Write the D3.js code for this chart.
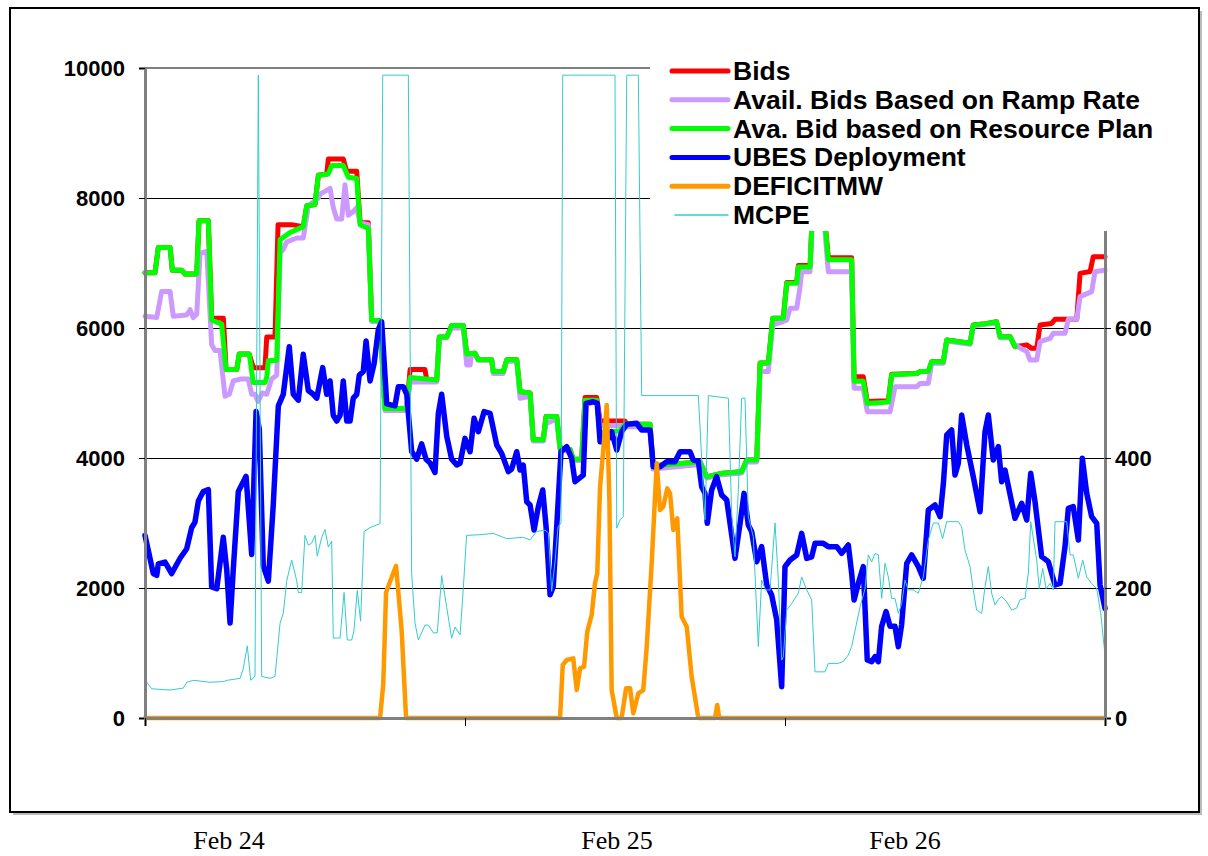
<!DOCTYPE html>
<html>
<head>
<meta charset="utf-8">
<script src="https://cdn.jsdelivr.net/npm/d3@7"></script>
<style>
  body { margin: 0; background: #fff; }
  svg { display: block; }
  .tick text { font-family: "Liberation Sans", Arial, sans-serif; font-weight: bold; font-size: 22px; fill: #000; }
</style>
</head>
<body>
<div id="chart"></div>
<script>
// hours from start of Feb 24, value pairs
const bids = [[0,6850],[0.75,6850],[1,7240],[1.88,7240],[2.05,6890],[2.75,6890],[3,6830],[3.88,6830],[4.05,7650],[4.75,7650],
  [5,6150],[5.88,6150],[6.08,5360],[6.88,5360],[7.07,5600],[7.82,5600],[8.12,5390],[9,5390],[9.13,5860],[9.75,5860],[9.98,7590],
  [10.98,7590],[11.87,7560],[12.13,7880],[12.75,7900],[13,8350],[13.63,8370],[13.75,8600],[14.87,8600],[15.13,8410],[15.88,8410],
  [16.13,7620],[16.75,7620],[17,6120],[17.63,6110],[18,4760],[19.63,4760],[19.88,5360],[21,5360],[21.13,5200],[21.88,5200],
  [22.07,5860],[22.63,5860],[23,6040],[23.87,6040],[24.13,5600],[24.75,5610],[25,5510],[26,5510],[26.12,5330],[26.87,5330],
  [27.13,5510],[27.88,5510],[28.13,5020],[28.88,5000],[29.12,4280],[29.87,4280],[30.08,4640],[30.88,4640],[31.13,4150],[31.88,4130],
  [32.12,3980],[32.75,3980],[33,4930],[33.88,4930],[34.13,4570],[36,4570],[36.1,4520],[37.88,4520],[38.1,3880],[41.63,3940],
  [42.13,3710],[43.13,3760],[44.75,3790],[45.13,3970],[45.88,3970],[46.13,5460],[46.75,5460],[47.08,6150],[47.87,6150],
  [48.13,6700],[48.88,6700],[49,6960],[49.88,6960],[50.08,7900],[50.87,7900],[51.25,7080],[53,7080],[53.18,5250],[53.87,5250],
  [54.17,4870],[55.75,4880],[56,5290],[57.88,5300],[58.13,5330],[58.75,5330],[59,5480],[59.87,5480],[60.13,5815],[61.88,5765],
  [62.12,6046],[62.87,6060],[63.87,6097],[64.13,5866],[64.88,5866],[65.25,5712],[66.13,5740],[66.5,5687],[66.88,5687],
  [67.13,6046],[68,6070],[68.25,6133],[69.88,6133],[70.13,6841],[70.88,6870],[71.12,7097],[72,7097]];

const availRamp = [[0,6182],[0.88,6160],[1.25,6563],[1.88,6563],[2.12,6182],[3.13,6200],[3.38,6281],[3.62,6160],[3.88,6211],
  [4.13,7150],[4.63,7180],[4.88,6211],[5,5742],[5.25,5654],[5.63,5654],[6,4950],[6.32,4980],[6.62,5185],[7.13,5214],[7.75,5214],
  [8,4980],[8.25,4980],[8.48,4870],[8.78,5000],[9.13,4980],[9.5,5214],[9.88,5273],[10.13,7150],[10.37,7208],[10.63,7325],
  [11.38,7384],[11.87,7384],[12.25,7882],[13,8000],[13.13,8059],[13.88,8147],[14.12,7853],[14.38,7677],[14.75,7677],[15,8205],
  [15.25,7736],[15.62,7790],[15.88,7850],[16.13,7618],[16.75,7590],[17,6100],[17.63,6100],[18,4730],[19.63,4730],[19.88,5170],
  [21.88,5170],[22.07,5860],[22.63,5860],[23,6000],[23.87,6000],[24.13,5430],[24.38,5430],[24.5,5600],[24.75,5610],[25,5510],
  [26,5510],[26.12,5300],[26.87,5300],[27.13,5490],[27.88,5490],[28.13,4920],[28.88,4950],[29.12,4260],[29.87,4260],[30.08,4530],
  [30.88,4600],[31.13,4130],[31.88,4100],[32.12,3960],[32.75,3960],[33,4840],[33.88,4860],[34.13,4500],[35.63,4500],[36,4480],
  [37.88,4480],[38.1,3830],[41.63,3900],[42.13,3690],[43.13,3740],[44.75,3770],[45.13,3940],[45.88,3940],[46.13,5330],[46.75,5330],
  [47.08,6050],[47.87,6100],[48.13,6123],[48.38,6302],[48.88,6302],[49.13,6636],[49.25,6866],[49.88,6866],[50.08,7800],[50.87,7800],
  [51.25,6866],[53,6866],[53.18,5072],[53.87,5072],[54.17,4713],[55.88,4713],[56.25,5097],[57.88,5097],[58.13,5148],[58.75,5148],
  [59,5456],[59.87,5456],[60.13,5800],[61.88,5750],[62.12,6030],[63.87,6080],[64.13,5850],[64.88,5850],[65.25,5738],[66.13,5636],
  [66.38,5507],[66.88,5507],[67.13,5790],[67.88,5840],[68.12,5918],[69,5918],[69.25,6133],[69.88,6133],[70.13,6482],[71,6559],
  [71.25,6866],[72,6892]];

const availPlan = [[0,6850],[0.75,6850],[1,7240],[1.88,7240],[2.05,6890],[2.75,6890],[3,6830],[3.88,6830],[4.05,7650],[4.75,7650],
  [5,6120],[5.75,6060],[6.08,5360],[6.88,5360],[7.07,5600],[7.82,5600],[8.12,5160],[9,5160],[9.13,5240],[9.25,5500],[9.88,5500],
  [10.13,7360],[10.88,7470],[11.87,7560],[12.13,7880],[12.75,7900],[13,8350],[13.75,8370],[14,8500],[14.87,8500],[15.25,8320],
  [15.88,8300],[16.13,7590],[16.75,7530],[17,6120],[17.63,6110],[18,4760],[19.63,4760],[19.88,5240],[21.88,5200],[22.07,5860],
  [22.63,5860],[23,6040],[23.87,6040],[24.13,5600],[24.75,5610],[25,5510],[26,5510],[26.12,5330],[26.87,5330],[27.13,5510],
  [27.88,5510],[28.13,5020],[28.88,5000],[29.12,4280],[29.87,4280],[30.08,4640],[30.88,4640],[31.13,4150],[31.88,4130],[32.12,3980],
  [32.75,3980],[33,4890],[33.88,4890],[34.13,4390],[35.63,4420],[36,4520],[37.88,4520],[38.1,3880],[41.63,3940],[42.13,3710],
  [43.13,3760],[44.75,3790],[45.13,3970],[45.88,3970],[46.13,5460],[46.75,5460],[47.08,6150],[47.87,6150],[48.13,6690],[48.88,6690],
  [49,6940],[49.88,6940],[50.08,7900],[50.87,7900],[51.25,7050],[53,7050],[53.18,5180],[53.87,5180],[54.17,4840],[55.75,4860],
  [56,5280],[57.88,5300],[58.13,5330],[58.75,5330],[59,5480],[59.87,5480],[60.13,5815],[61.88,5765],[62.12,6046],[62.87,6060],
  [63.87,6097],[64.13,5866],[64.88,5866],[65.25,5712]];

const ubes = [[0,2809],[0.25,2575],[0.62,2223],[0.88,2194],[1,2370],[1.5,2399],[2,2223],[2.63,2457],[3.13,2604],[3.5,2927],
  [3.75,3015],[4,3337],[4.37,3484],[4.75,3513],[5,2018],[5.38,1988],[5.87,2780],[6.13,2282],[6.38,1460],[6.62,2282],[7,3484],
  [7.58,3718],[8,2516],[8.33,4715],[8.57,4451],[8.87,2340],[9.25,2106],[9.62,3278],[10,4803],[10.37,4980],[10.82,5712],[11.12,4980],
  [11.5,4891],[11.87,5595],[12.25,5038],[12.62,4980],[12.88,4920],[13.33,5390],[13.63,4980],[13.88,5185],[14.12,4657],[14.38,4569],
  [14.63,4657],[14.87,5185],[15.13,4569],[15.38,4569],[15.62,4920],[15.88,4980],[16.07,5273],[16.37,5331],[16.58,5800],[16.88,5185],
  [17.18,5449],[17.5,5976],[17.75,6094],[18.13,4833],[18.75,4803],[19,5097],[19.37,5097],[19.63,4980],[20,4100],[20.38,3982],
  [20.75,4217],[21.08,3982],[21.38,3924],[21.75,3777],[22,4686],[22.25,4980],[22.63,4334],[23,3982],[23.38,3894],[23.63,3918],
  [24,4302],[24.38,4097],[24.68,4610],[25,4405],[25.43,4713],[25.88,4687],[26.38,4200],[26.75,4072],[27.25,3790],[27.5,3830],
  [27.88,4097],[28.13,3815],[28.37,3892],[28.63,3328],[28.88,3277],[29.18,2892],[29.5,3251],[29.83,3508],[30.08,2943],[30.38,1897],
  [30.62,2021],[30.95,3200],[31.2,4097],[31.63,4174],[32,3995],[32.25,3636],[32.87,3738],[33.08,4841],[33.62,4866],[33.92,4841],
  [34.13,4251],[34.63,4251],[35,4405],[35.38,4123],[35.75,4405],[36.13,4520],[36.88,4533],[37.25,4431],[37.88,4431],[38.12,3866],
  [38.63,3866],[39.13,3943],[39.75,3943],[40.13,4097],[40.88,4097],[41.12,3969],[41.5,3950],[41.75,3559],[42,3456],[42.17,2995],
  [42.5,3508],[42.87,3713],[43.25,3431],[43.63,3354],[44.25,2456],[44.63,2995],[44.93,3456],[45.25,2969],[45.5,2866],[45.88,2405],
  [46.25,2636],[46.63,2046],[47,1892],[47.38,1508],[47.75,482],[48,2328],[48.38,2431],[48.88,2508],[49.25,2841],[49.63,2456],
  [50,2480],[50.25,2687],[50.87,2687],[51.25,2636],[51.88,2636],[52.25,2533],[52.75,2661],[53,2225],[53.18,1815],[53.5,2072],
  [53.87,2328],[54.17,892],[54.5,867],[54.75,943],[55,867],[55.25,1410],[55.58,1636],[55.88,1410],[56.25,1410],[56.5,1097],
  [56.75,1441],[57.13,2379],[57.5,2508],[58,2328],[58.37,2149],[58.75,3200],[59.25,3277],[59.63,3097],[59.88,3610],[60.13,4354],
  [60.5,4431],[60.75,3738],[61,3918],[61.25,4661],[61.63,4200],[62.12,3713],[62.63,3174],[63,4405],[63.25,4661],[63.62,3969],
  [64,4174],[64.25,3636],[64.5,3815],[65.25,3072],[65.75,3302],[66.13,3046],[66.43,3764],[66.75,3328],[67.25,2482],[67.75,2405],
  [68.25,2046],[68.63,2072],[69,2636],[69.25,3225],[69.62,3251],[70,2738],[70.3,3995],[70.63,3456],[71,3097],[71.38,2995],
  [71.63,2046],[72,1687]];

const deficitMW = [[0,0],[17.63,0],[17.87,522],[18.08,1930],[18.5,2164],[18.83,2340],[19.25,1343],[19.58,0],[31.13,0],
  [31.33,815],[31.63,892],[32.12,918],[32.38,431],[32.63,764],[32.93,790],[33.17,1328],[33.5,1585],[33.75,2072],[33.92,2226],
  [34.13,3559],[34.37,4123],[34.63,4815],[34.83,3354],[35,431],[35.38,0],[35.75,0],[36.08,456],[36.38,456],[36.62,72],[37,379],
  [37.37,430],[37.63,1097],[38,2379],[38.38,3918],[38.63,3200],[38.87,3251],[39.17,3533],[39.38,3456],[39.62,2892],[39.92,3072],
  [40.25,1559],[40.63,1405],[41,636],[41.5,0],[42.75,0],[42.92,200],[43.07,0],[72,0]];

// MCPE on the right axis
const mcpe = [[0.13,55],[0.5,45],[1.88,43],[2.87,46],[3.13,55],[3.62,58],[4.88,55],[5.87,56],[6.17,58],[7.13,61],[7.37,76],
  [7.67,111],[7.93,58],[8.25,64],[8.5,989],[8.75,64],[9.38,61],[9.75,64],[10.13,146],[10.37,161],[10.63,211],[11,243],[11.38,211],
  [11.5,193],[11.75,193],[12,281],[12.25,266],[12.5,269],[12.75,281],[12.92,249],[13.25,278],[13.5,290],[13.75,263],[14,272],
  [14.12,123],[14.63,123],[14.93,193],[15.17,120],[15.5,120],[15.67,134],[15.92,196],[16.17,149],[16.43,287],[16.88,293],
  [17.63,299],[17.83,989],[19.75,989],[20,222],[20.25,146],[20.5,120],[21,143],[21.25,143],[21.62,131],[21.92,131],[22.25,219],
  [22.63,170],[23,123],[23.25,140],[23.63,128],[23.87,199],[24.12,281],[25.13,282],[26.12,284],[27.12,276],[28.37,278],[28.88,274],
  [29.37,287],[30,289],[30.25,285],[30.5,195],[30.75,240],[30.98,294],[31.2,300],[31.33,989],[35.25,989],[35.38,292],[35.63,305],
  [35.87,310],[36.13,989],[37,989],[37.25,496],[41.5,496],[41.75,400],[42,305],[42.25,496],[43.75,492],[44,315],[44.25,248],
  [44.5,351],[44.75,492],[45,492],[45.25,310],[45.62,279],[46,110],[46.25,212],[46.55,197],[46.88,197],[47.25,300],[47.5,212],
  [47.75,89],[47.87,94],[48.13,166],[48.5,176],[49,192],[49.25,217],[49.63,197],[50,182],[50.25,71],[51,71],[51.25,84],[52,84],
  [52.37,87],[52.75,97],[53,110],[53.63,171],[54,199],[54.25,251],[54.5,240],[54.75,253],[55,251],[55.25,184],[55.5,238],
  [55.75,217],[56,184],[56.25,184],[56.5,161],[56.75,176],[57,212],[57.25,197],[57.62,197],[58,192],[58.37,217],[58.75,274],
  [59.12,300],[59.5,300],[59.82,276],[60.13,302],[61,302],[61.25,294],[61.5,258],[61.88,233],[62.12,197],[62.37,166],[62.75,161],
  [63,202],[63.25,233],[63.5,192],[63.75,174],[64,182],[64.25,187],[64.62,179],[65,166],[65.37,169],[65.63,182],[66,184],
  [66.25,223],[66.43,302],[66.88,243],[67.07,199],[67.33,230],[67.58,199],[67.88,207],[68.12,197],[68.25,302],[69.13,302],
  [69.38,251],[69.62,251],[70,215],[70.33,243],[70.63,217],[71,207],[71.38,199],[71.68,161],[72,97]];

const leftTicks = [0, 2000, 4000, 6000, 8000, 10000];
const rightTicks = [0, 200, 400, 600];
const dayTicks = [0, 24, 48, 72];
const dayLabels = ["Feb 24", "Feb 25", "Feb 26"];
const dayLabelX = [229, 617, 905];

const seriesNames = ["Bids", "Avail. Bids Based on Ramp Rate", "Ava. Bid based on Resource Plan",
  "UBES Deployment", "DEFICITMW", "MCPE"];
const seriesColors = ["#ff0000", "#cc99ff", "#00ff00", "#0000ff", "#ff9900", "#33cccc"];
const seriesWidths = [5, 5, 5, 5.5, 4.5, 1];

const width = 1208, height = 856;
const plot = {left: 145, right: 1105, top: 68, bottom: 718};

const svg = d3.select('#chart').append('svg')
    .attr('width', width)
    .attr('height', height);

// frame with a light shadow
svg.append('rect').attr('x', 13).attr('y', 11).attr('width', 1189).attr('height', 804).attr('fill', '#bbb');
svg.append('rect').attr('x', 10).attr('y', 8).attr('width', 1189).attr('height', 804)
    .attr('fill', '#fff').attr('stroke', '#000').attr('stroke-width', 2);

const x = d3.scaleLinear().domain([0, 72]).range([plot.left, plot.right]);
const y = d3.scaleLinear().domain([0, 10000]).range([plot.bottom, plot.top]);
const yR = d3.scaleLinear().domain([0, 1000]).range([plot.bottom, plot.top]);

// gridlines
svg.append('g').selectAll('line')
    .data(leftTicks.filter(d => d > 0))
    .join('line')
    .attr('x1', plot.left).attr('x2', plot.right)
    .attr('y1', d => d === 10000 ? y(d) : y(d) + 0.5)
    .attr('y2', d => d === 10000 ? y(d) : y(d) + 0.5)
    .attr('stroke', d => d === 10000 ? '#808080' : '#000')
    .attr('stroke-width', d => d === 10000 ? 2 : 1);

// series
const lineL = d3.line().x(d => x(d[0])).y(d => y(d[1]));
const lineR = d3.line().x(d => x(d[0])).y(d => yR(d[1]));
const allSeries = [bids, availRamp, availPlan, ubes, deficitMW, mcpe];

allSeries.forEach((s, i) => {
    svg.append('path')
        .datum(s)
        .attr('d', i === 5 ? lineR : lineL)
        .attr('fill', 'none')
        .attr('stroke', seriesColors[i])
        .attr('stroke-width', seriesWidths[i])
        .attr('stroke-linejoin', 'round')
        .attr('stroke-linecap', 'round');
});

// axes
const leftAxis = svg.append('g')
    .attr('transform', `translate(${plot.left},0)`)
    .call(d3.axisLeft(y).tickValues(leftTicks).tickSize(6).tickPadding(14).tickFormat(d3.format('d')));
leftAxis.select('.domain').attr('stroke', '#808080').attr('stroke-width', 3);

const rightAxis = svg.append('g')
    .attr('transform', `translate(${plot.right},0)`)
    .call(d3.axisRight(yR).tickValues(rightTicks).tickSize(6).tickPadding(4).tickFormat(d3.format('d')));
rightAxis.select('.domain').attr('stroke', '#808080').attr('stroke-width', 3);

const bottomAxis = svg.append('g')
    .attr('transform', `translate(0,${plot.bottom})`)
    .call(d3.axisBottom(x).tickValues(dayTicks).tickSize(8).tickFormat(''));
bottomAxis.select('.domain').attr('stroke', '#808080').attr('stroke-width', 3);

// legend
const legend = svg.append('g');
legend.append('rect')
    .attr('x', 650).attr('y', 50).attr('width', 518).attr('height', 181)
    .attr('fill', '#fff');
seriesNames.forEach((name, i) => {
    const ly = 71 + i * 28.8;
    legend.append('line')
        .attr('x1', i === 5 ? 675 : 672).attr('x2', 728)
        .attr('y1', ly).attr('y2', ly)
        .attr('stroke', seriesColors[i])
        .attr('stroke-width', i === 5 ? 1.5 : 5)
        .attr('stroke-linecap', 'round');
    legend.append('text')
        .attr('x', 733).attr('y', ly + 9)
        .attr('font-family', '"Liberation Sans", Arial, sans-serif')
        .attr('font-weight', 'bold')
        .attr('font-size', 26.5)
        .text(name);
});

// date labels below the frame
svg.append('g').selectAll('text')
    .data(dayLabels)
    .join('text')
    .attr('x', (d, i) => dayLabelX[i])
    .attr('y', 849)
    .attr('text-anchor', 'middle')
    .attr('font-family', '"Liberation Serif", "Times New Roman", serif')
    .attr('font-size', 26)
    .text(d => d);
</script>
</body>
</html>
